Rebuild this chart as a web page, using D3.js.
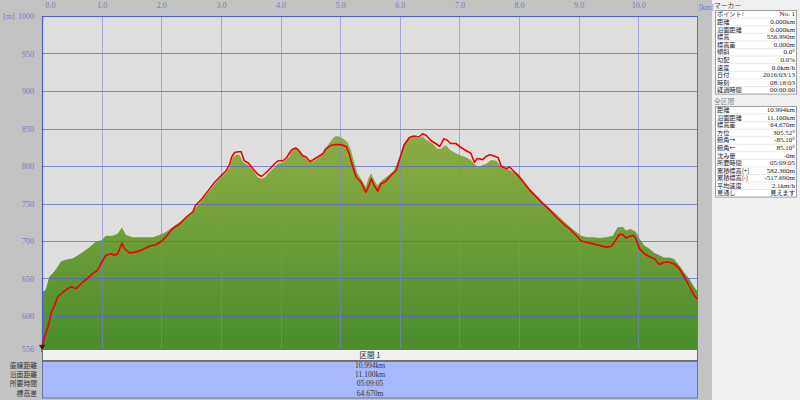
<!DOCTYPE html>
<html><head><meta charset="utf-8">
<script src="https://cdn.jsdelivr.net/npm/d3@7"></script>
<style>
html,body{margin:0;padding:0;background:#c3c3c3;}
svg{display:block;}
</style></head>
<body>
<svg id="c" width="800" height="400"></svg>
<script>
// ---- data ----
const xTicks = [0,1,2,3,4,5,6,7,8,9,10];
const yTicks = [1000,950,900,850,800,750,700,650,600,556];
const terrainKm = [0.00,0.05,0.07,0.12,0.18,0.24,0.32,0.40,0.52,0.60,0.68,0.80,0.90,1.00,1.07,1.19,1.27,1.34,1.41,1.52,1.64,1.75,1.86,1.97,2.08,2.20,2.31,2.42,2.53,2.57,2.68,2.79,2.90,3.01,3.09,3.15,3.20,3.26,3.31,3.37,3.46,3.54,3.62,3.68,3.74,3.82,3.90,3.96,4.04,4.10,4.15,4.18,4.25,4.32,4.40,4.48,4.57,4.65,4.73,4.81,4.90,4.96,5.04,5.12,5.18,5.24,5.29,5.38,5.43,5.48,5.52,5.56,5.62,5.68,5.73,5.82,5.90,5.99,6.07,6.16,6.24,6.32,6.38,6.46,6.55,6.63,6.69,6.77,6.85,6.94,7.02,7.10,7.19,7.27,7.32,7.45,7.53,7.62,7.68,7.76,7.84,7.90,7.98,8.07,8.18,8.29,8.40,8.51,8.62,8.74,8.85,8.96,9.04,9.13,9.24,9.35,9.46,9.57,9.65,9.74,9.79,9.87,9.96,10.02,10.10,10.18,10.27,10.35,10.43,10.52,10.60,10.69,10.77,10.85,10.94,11.00];
const terrainElev = [632,634,637,652,657,663,673,675,677,681,685,692,699,701,707,707,710,718,708,705,705,705,705,708,712,719,725,732,740,744,754,765,776,785,792,799,812,815,815,805,801,794,785,783,785,792,799,803,805,809,813,819,823,819,812,805,807,812,819,830,839,840,837,832,821,803,790,779,772,785,790,783,774,779,783,788,794,810,830,837,839,837,839,834,830,823,823,828,821,817,814,812,808,801,799,803,808,807,801,796,795,792,790,781,770,761,752,744,736,727,719,712,707,705,705,704,705,707,718,719,714,716,712,703,694,690,684,681,678,678,676,667,658,650,638,632];
const trackKm = [0.00,0.04,0.10,0.15,0.21,0.26,0.35,0.43,0.49,0.57,0.63,0.68,0.76,0.85,0.93,0.99,1.07,1.16,1.21,1.27,1.34,1.38,1.47,1.58,1.69,1.80,1.91,1.99,2.08,2.19,2.31,2.42,2.53,2.57,2.68,2.79,2.90,3.01,3.09,3.15,3.18,3.23,3.29,3.34,3.39,3.46,3.54,3.62,3.68,3.74,3.82,3.90,3.96,4.04,4.10,4.18,4.25,4.29,4.37,4.43,4.49,4.54,4.62,4.71,4.76,4.85,4.93,5.01,5.10,5.15,5.21,5.27,5.35,5.43,5.48,5.52,5.57,5.63,5.68,5.77,5.85,5.94,5.99,6.07,6.16,6.24,6.32,6.38,6.44,6.52,6.60,6.67,6.74,6.80,6.85,6.94,7.02,7.10,7.19,7.25,7.30,7.39,7.45,7.51,7.59,7.65,7.70,7.79,7.84,7.90,7.98,8.07,8.18,8.29,8.40,8.51,8.62,8.74,8.85,8.96,9.04,9.13,9.24,9.35,9.46,9.54,9.60,9.68,9.74,9.79,9.85,9.92,9.96,10.02,10.10,10.18,10.27,10.35,10.43,10.52,10.60,10.69,10.77,10.82,10.88,10.94,10.99];
const trackElev = [557,572,585,603,614,625,632,636.5,639,636.5,641,645,650,656.5,661,670,681,683,681,683,697,690,684,685.5,688.6,693,695,699,705.5,716.6,723,732,739,747,756,767.5,778.6,787.5,794,803,812,818,819,819,807,804,796,789,786,790,796,803,807,807,811,821,824,822,814,812,806,808,812,816.5,823,827.6,828.5,828.5,826,816.5,799,785,778.6,765,773,783,774,766.6,776,780,787.5,794,807.6,827.6,838,840,838.7,843,841,834,830,826,836.5,834,830,830,825,821,817,805,810,808.5,813,815,813,811,799.6,796.4,798.7,794,787.5,778.6,767.5,758.6,749.7,741.6,732,723,716,707.4,700,698.4,696.2,694,691.8,692.7,698.4,708.7,708.7,704,706,707.4,703,689.5,683,679.3,676.2,668.6,671.7,671.7,669.5,662.8,651.7,645,636,627,622.7];
const sectionTitle = "区間 1";
const sectionLabels = ["直線距離","沿面距離","所要時間","標高差"];
const sectionValues = ["10.994km","11.100km","05:09:05","64.670m"];
const markerTitle = "マーカー";
const markerLabels = ["ポイント:","距離","沿面距離","標高","標高差","傾斜","勾配","速度","日付","時刻","経過時間"];
const markerValues = ["No. 1","0.000km","0.000km","556.990m","0.000m","0.0°","0.0%","0.0km/h","2016/03/13","08:18:03","00:00:00"];
const wholeTitle = "全区間";
const wholeLabels = ["距離","沿面距離","標高差","方位","俯角→","俯角←","沈み量","所要時間","累積標高(+)","累積標高(-)","平均速度","見通し"];
const wholeValues = ["10.994km","11.100km","64.670m","305.52°","-85.10°","85.10°","-0m","05:09:05","582.360m","-517.690m","2.1km/h","見えます"];

// ---- layout ----
const svg = d3.select("#c");
const L = 42, R = 698, T = 16, B = 349;
const x = d3.scaleLinear().domain([0, 11]).range([L, R]);
const y = d3.scaleLinear().domain([556, 1000]).range([B, T]);
const jp = "'Noto Sans CJK JP','Noto Sans',sans-serif";
const num = "'Liberation Serif','DejaVu Serif',serif";

svg.append("rect").attr("width",800).attr("height",400).attr("fill","#c3c3c3");
svg.append("rect").attr("x",712).attr("y",0).attr("width",88).attr("height",400).attr("fill","#f0f0f0");
svg.append("rect").attr("x",L).attr("y",T).attr("width",R-L).attr("height",B-T).attr("fill","#dedede");

const defs = svg.append("defs");
const g = defs.append("linearGradient").attr("id","gr").attr("gradientUnits","userSpaceOnUse")
  .attr("x1",0).attr("x2",0).attr("y1",T).attr("y2",B);
g.append("stop").attr("offset",0).attr("stop-color","#a4ba55");
g.append("stop").attr("offset",0.45).attr("stop-color","#84a840");
g.append("stop").attr("offset",1).attr("stop-color","#4a8d2c");

const terrain = terrainKm.map((k,i)=>[k, terrainElev[i]]);
const track = trackKm.map((k,i)=>[k, trackElev[i]]);

svg.append("path").datum(terrain)
  .attr("d", d3.area().x(d=>x(d[0])).y0(B).y1(d=>y(d[1])))
  .attr("fill","url(#gr)");

const grid = svg.append("g");
grid.selectAll("line.h").data(yTicks.filter(v=>v!==556)).join("line")
  .attr("x1",L).attr("x2",R).attr("y1",d=>Math.round(y(d))+0.5).attr("y2",d=>Math.round(y(d))+0.5)
  .attr("stroke","#5464c8").attr("stroke-opacity",0.7).attr("stroke-width",1);
grid.selectAll("line.v").data(xTicks.filter(v=>v>0)).join("line")
  .attr("y1",T).attr("y2",B).attr("x1",d=>Math.round(x(d))+0.5).attr("x2",d=>Math.round(x(d))+0.5)
  .attr("stroke","#7884d0").attr("stroke-opacity",0.6).attr("stroke-width",1);

svg.append("line").attr("x1",L+0.5).attr("x2",L+0.5).attr("y1",T).attr("y2",B).attr("stroke","#4a5ad8").attr("stroke-width",1.2);
svg.append("line").attr("x1",L).attr("x2",R).attr("y1",T+0.5).attr("y2",T+0.5).attr("stroke","#4a5ad8").attr("stroke-width",1.2);
svg.append("line").attr("x1",R-0.5).attr("x2",R-0.5).attr("y1",T).attr("y2",B).attr("stroke","#6070c8").attr("stroke-width",1);

svg.append("path").datum(track)
  .attr("d", d3.line().x(d=>x(d[0])).y(d=>y(d[1])))
  .attr("fill","none").attr("stroke","#f00000").attr("stroke-width",1.6).attr("stroke-linejoin","round");

const px0 = x(trackKm[0]), py0 = y(trackElev[0]);
svg.append("path").attr("d", `M${px0-2.5},${py0-3} L${px0+2.5},${py0-3} L${px0},${py0+1} Z`)
  .attr("fill","#6a1010").attr("stroke","#111").attr("stroke-width",0.7);
svg.append("line").attr("x1",px0).attr("x2",px0).attr("y1",py0).attr("y2",py0+4).attr("stroke","#111").attr("stroke-width",0.8);

const xAxis = d3.axisTop(x).tickValues(xTicks).tickFormat(d3.format(".1f")).tickSize(0);
const xa = svg.append("g").attr("transform",`translate(0,${T-5})`).call(xAxis);
xa.select(".domain").remove();
xa.selectAll("text").attr("font-family",num).attr("font-size",8).attr("fill","#6a78c8").attr("dy","0");
xa.selectAll("text").filter(d=>d===0).attr("text-anchor","start").attr("dx",3);
svg.append("text").attr("x",699).attr("y",10).text("[km]").attr("font-family",num).attr("font-size",7.5).attr("fill","#6a78c8");

const yAxis = d3.axisLeft(y).tickValues(yTicks).tickFormat(d3.format("d")).tickSize(0);
const ya = svg.append("g").attr("transform",`translate(${L-5},0)`).call(yAxis);
ya.select(".domain").remove();
ya.selectAll("text").attr("font-family",num).attr("font-size",8).attr("fill","#6a78c8");
svg.append("text").attr("x",3).attr("y",19).text("[m]").attr("font-family",num).attr("font-size",8).attr("fill","#6a78c8");

// bottom section table
const tb = svg.append("g");
tb.append("rect").attr("x",L+0.5).attr("y",349.5).attr("width",R-L-1).attr("height",11).attr("fill","#f0f0f0").attr("stroke","#707070").attr("stroke-width",1);
tb.append("text").attr("x",(L+R)/2).attr("y",358).attr("text-anchor","middle").text(sectionTitle)
  .attr("font-family",jp).attr("font-size",7.5).attr("fill","#222");
tb.append("rect").attr("x",L+0.5).attr("y",361.5).attr("width",R-L-1).attr("height",36.5).attr("fill","#a8b8fc").attr("stroke","#6a74a8").attr("stroke-width",1);
const rowY = d3.scalePoint().domain(d3.range(sectionLabels.length)).range([368,395.5]);
tb.selectAll("text.l").data(sectionLabels).join("text")
  .attr("x",37).attr("y",(d,i)=>rowY(i)).attr("text-anchor","end").text(d=>d)
  .attr("font-family",jp).attr("font-size",6.8).attr("fill","#333");
tb.selectAll("text.v").data(sectionValues).join("text")
  .attr("x",(L+R)/2).attr("y",(d,i)=>rowY(i)).attr("text-anchor","middle").text(d=>d)
  .attr("font-family",num).attr("font-size",7.5).attr("fill","#333");

// right panel
const rp = svg.append("g");
function box(title, titleY, labels, values, top, rh, titleColor){
  rp.append("text").attr("x",714).attr("y",titleY).text(title).attr("font-family",jp).attr("font-size",6.8).attr("fill", titleColor);
  const gg = rp.append("g");
  gg.append("rect").attr("x",715.5).attr("y",top+0.5).attr("width",81).attr("height",labels.length*rh).attr("fill","#fff").attr("stroke","#a0a0a0").attr("stroke-width",1);
  gg.selectAll("line").data(d3.range(1,labels.length)).join("line")
    .attr("x1",716).attr("x2",796).attr("y1",i=>top+0.5+i*rh).attr("y2",i=>top+0.5+i*rh)
    .attr("stroke","#dadada").attr("stroke-width",0.6);
  gg.selectAll("text.l").data(labels).join("text")
    .attr("x",717).attr("y",(d,i)=>top+(i+1)*rh-1.3).text(d=>d)
    .attr("font-family",jp).attr("font-size",6.2).attr("fill","#222");
  gg.selectAll("text.v").data(values).join("text")
    .attr("x",795).attr("y",(d,i)=>top+(i+1)*rh-1.3).attr("text-anchor","end").text(d=>d)
    .attr("font-family",d=>/[ぁ-んァ-ン一-龥]/.test(d)? jp : num).attr("font-size",d=>/[ぁ-んァ-ン一-龥]/.test(d)?6.2:7).attr("fill","#222");
}
box(markerTitle, 8, markerLabels, markerValues, 10, 7.6, "#444");
box(wholeTitle, 103.5, wholeLabels, wholeValues, 106, 7.55, "#888");
</script>
</body></html>
